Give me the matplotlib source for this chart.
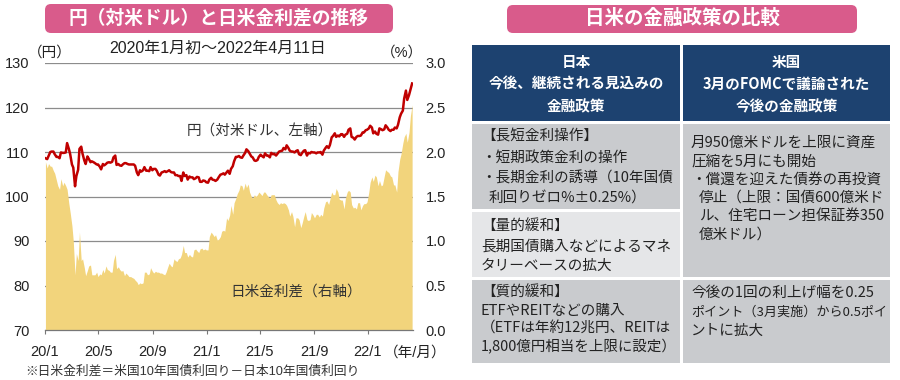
import matplotlib
matplotlib.use('Agg')
import matplotlib.pyplot as plt
from matplotlib.patches import FancyBboxPatch, Rectangle
from matplotlib.ticker import FormatStrFormatter
import pandas as pd

plt.rcParams['font.family'] = ['Liberation Sans', 'Noto Sans CJK JP']
JP = ['Noto Sans CJK JP', 'DejaVu Sans']

# ---------------- data (Mon/Thu readings) ----------------
usdjpy_2020 = [
    108.6, 108.4, 109.1, 110.0, 110.1, 110.1, 109.5, 108.9, 108.9,   # Jan
    108.6, 109.9, 109.8, 109.8, 109.9, 112.0, 110.7, 109.5,          # Feb
    107.2, 106.5, 102.3, 104.6, 106.0, 110.7, 111.2, 109.6, 108.1,   # Mar
    107.3, 109.0, 108.5, 107.7, 107.9, 107.7, 107.5, 107.2, 107.2,   # Apr
    106.7, 106.1, 107.3, 107.0, 107.3, 107.6, 107.7, 107.6,          # May
    107.8, 108.8, 109.2, 107.1, 107.3, 107.0, 106.9, 107.2, 107.5,   # Jun
    107.5, 107.3, 107.2, 107.2, 107.2, 107.2, 106.9, 105.4, 104.8,   # Jul
    105.9, 105.6, 105.9, 106.6, 105.8, 105.8, 105.7, 106.6, 105.9,   # Aug
    106.2, 106.2, 105.8, 104.9, 104.7, 105.4, 105.5, 105.7,          # Sep
    105.5, 105.7, 105.9, 105.5, 105.4, 105.4, 104.8, 104.8, 104.6,   # Oct
    104.6, 103.5, 105.4, 104.6, 104.8, 103.8, 104.5, 104.3, 104.3,   # Nov
    103.9, 104.1, 104.4, 104.3, 103.3, 103.3, 103.6, 103.5, 103.2,   # Dec
]
usdjpy_2021 = [
    103.1, 103.8, 104.2, 103.8, 103.7, 103.5, 103.8, 104.3,          # Jan
    104.9, 105.0, 105.2, 104.9, 105.4, 105.8, 105.1, 106.2,          # Feb
    106.8, 107.9, 108.9, 108.9, 109.1, 108.8, 108.7, 109.2, 109.8,   # Mar
    110.6, 110.2, 109.7, 109.0, 108.8, 108.1, 108.0, 108.2, 108.9,   # Apr
    109.4, 109.1, 108.8, 109.7, 109.2, 109.2, 108.8, 109.8, 109.5,   # May
    109.6, 109.2, 109.6, 110.1, 110.2, 110.3, 110.9, 110.6,          # Jun
    111.5, 110.9, 110.3, 110.1, 110.1, 109.9, 110.2, 110.4, 109.5,   # Jul
    109.3, 109.8, 110.3, 110.4, 109.2, 109.8, 109.7, 110.0, 109.9,   # Aug
    109.9, 109.7, 109.9, 109.9, 110.0, 109.4, 110.3, 110.9, 111.3,   # Sep
    110.9, 111.6, 113.3, 113.6, 114.2, 113.4, 113.7, 113.5,          # Oct
    114.0, 114.0, 113.4, 113.9, 114.1, 115.0, 115.3, 113.4, 113.2,   # Nov
    112.8, 113.4, 113.6, 113.6, 113.7, 114.4, 114.4, 114.9, 115.0,   # Dec
]
usdjpy_2022 = [
    115.3, 115.9, 115.5, 114.2, 114.6, 114.1, 113.9, 115.3, 115.1,   # Jan
    114.9, 115.1, 116.0, 115.5, 115.0, 114.7, 115.0, 115.0,          # Feb
    115.5, 115.3, 116.1, 117.8, 118.6, 119.3, 122.0, 123.8, 121.7,   # Mar
    122.8, 123.9, 125.4,                                             # Apr
]

spread_2020 = [
    1.89, 1.82, 1.87, 1.84, 1.84, 1.79, 1.76, 1.68, 1.62,   # Jan
    1.58, 1.70, 1.62, 1.66, 1.62, 1.58, 1.42, 1.32,         # Feb
    1.17, 1.00, 0.62, 0.86, 0.78, 1.10, 0.78, 0.80, 0.70,   # Mar
    0.61, 0.67, 0.72, 0.73, 0.62, 0.62, 0.62, 0.65, 0.60,   # Apr
    0.63, 0.62, 0.68, 0.64, 0.72, 0.68, 0.67, 0.65,         # May
    0.65, 0.78, 0.85, 0.69, 0.71, 0.68, 0.66, 0.67, 0.61,   # Jun
    0.64, 0.62, 0.60, 0.60, 0.59, 0.58, 0.56, 0.54, 0.51,   # Jul
    0.53, 0.52, 0.53, 0.65, 0.65, 0.62, 0.63, 0.70, 0.66,   # Aug
    0.64, 0.66, 0.65, 0.65, 0.64, 0.64, 0.63, 0.62,         # Sep
    0.65, 0.71, 0.75, 0.72, 0.71, 0.80, 0.78, 0.77, 0.80,   # Oct
    0.81, 0.85, 0.95, 0.87, 0.87, 0.82, 0.85, 0.83, 0.82,   # Nov
    0.90, 0.91, 0.89, 0.87, 0.91, 0.92, 0.90, 0.91, 0.90,   # Dec
]
spread_2021 = [
    0.90, 1.05, 1.10, 1.08, 1.05, 1.07, 1.01, 1.02,         # Jan
    1.05, 1.11, 1.12, 1.11, 1.26, 1.23, 1.29, 1.40,         # Feb
    1.30, 1.43, 1.48, 1.53, 1.57, 1.63, 1.62, 1.57, 1.65,   # Mar
    1.60, 1.64, 1.55, 1.50, 1.48, 1.52, 1.50, 1.52, 1.55,   # Apr
    1.53, 1.51, 1.55, 1.55, 1.52, 1.50, 1.48, 1.52, 1.52,   # May
    1.52, 1.46, 1.43, 1.41, 1.43, 1.42, 1.43, 1.42,         # Jun
    1.40, 1.35, 1.28, 1.33, 1.28, 1.16, 1.26, 1.26, 1.24,   # Jul
    1.15, 1.20, 1.28, 1.33, 1.24, 1.23, 1.24, 1.32, 1.29,   # Aug
    1.26, 1.30, 1.30, 1.27, 1.30, 1.28, 1.37, 1.44, 1.45,   # Sep
    1.41, 1.47, 1.55, 1.52, 1.52, 1.59, 1.55, 1.47,         # Oct
    1.46, 1.46, 1.36, 1.48, 1.55, 1.57, 1.55, 1.41, 1.37,   # Nov
    1.38, 1.36, 1.43, 1.43, 1.35, 1.40, 1.42, 1.42, 1.44,   # Dec
]
spread_2022 = [
    1.55, 1.66, 1.72, 1.67, 1.74, 1.72, 1.62, 1.68, 1.62,   # Jan
    1.63, 1.73, 1.80, 1.78, 1.77, 1.73, 1.72, 1.63,         # Feb
    1.63, 1.55, 1.78, 1.92, 1.98, 2.10, 2.17, 2.21, 2.11,   # Mar
    2.22, 2.40, 2.53,                                       # Apr
]

xtick_dates = ['2020-01-01', '2020-05-01', '2020-09-01', '2021-01-01',
               '2021-05-01', '2021-09-01', '2022-01-01']
xtick_labels = ['20/1', '20/5', '20/9', '21/1', '21/5', '21/9', '22/1']
yen_ticks = [70, 80, 90, 100, 110, 120, 130]
spread_ticks = [0.0, 0.5, 1.0, 1.5, 2.0, 2.5, 3.0]

left_title = '円（対米ドル）と日米金利差の推移'
sub_title = '2020年1月初～2022年4月11日'
fx_label = '円（対米ドル、左軸）'
spread_label = '日米金利差（右軸）'
footnote = '※日米金利差＝米国10年国債利回り－日本10年国債利回り'

right_title = '日米の金融政策の比較'
head_jp = ['日本', '今後、継続される見込みの', '金融政策']
head_us = ['米国', '3月のFOMCで議論された', '今後の金融政策']
jp_row1 = ['【長短金利操作】', '・短期政策金利の操作', '・長期金利の誘導（10年国債', ' 利回りゼロ%±0.25%）']
jp_row2 = ['【量的緩和】', '長期国債購入などによるマネ', 'タリーベースの拡大']
jp_row3 = ['【質的緩和】', 'ETFやREITなどの購入', '（ETFは年約12兆円、REITは', '1,800億円相当を上限に設定）']
us_row1 = ['月950億米ドルを上限に資産', '圧縮を5月にも開始', '・償還を迎えた債券の再投資',
           ' 停止（上限：国債600億米ド', ' ル、住宅ローン担保証券350', ' 億米ドル）']
us_row2 = ['今後の1回の利上げ幅を0.25', 'ポイント（3月実施）から0.5ポイ', 'ントに拡大']


def mon_thu(start, end):
    d = pd.date_range(start, end, freq='D')
    return d[d.weekday.isin([0, 3])]


dates = mon_thu('2020-01-01', '2022-04-11')
usdjpy = usdjpy_2020 + usdjpy_2021 + usdjpy_2022
spread = spread_2020 + spread_2021 + spread_2022
assert len(dates) == len(usdjpy) == len(spread), (len(dates), len(usdjpy), len(spread))

# ---------------- figure ----------------
W, H = 900, 380
fig = plt.figure(figsize=(9, 3.8), dpi=100)


def frac(x0, y0, x1, y1):
    return [x0 / W, 1 - y1 / H, (x1 - x0) / W, (y1 - y0) / H]


TXT = '#222222'
ax = fig.add_axes(frac(45, 63, 413, 330))
ax_fx = ax.twinx()
ax.yaxis.tick_right()
ax_fx.yaxis.tick_left()

ax.fill_between(dates, spread, 0, color='#f2d47c', lw=0, zorder=2)
ax.set_ylim(0, 3)
ax.set_yticks(spread_ticks)
ax.yaxis.set_major_formatter(FormatStrFormatter('%.1f'))
ax.yaxis.grid(True, color='#8c8c8c', lw=0.9)
ax.set_axisbelow(True)
ax.set_xlim(pd.Timestamp('2020-01-01'), pd.Timestamp('2022-04-13'))
ax.set_xticks(pd.to_datetime(xtick_dates))
ax.set_xticklabels(xtick_labels)
ax.tick_params(axis='x', length=3, width=0.8, color='#777777', pad=8,
               labelsize=10.5, labelcolor=TXT)
ax.tick_params(axis='y', length=0, pad=9, labelsize=10.5, labelcolor=TXT)
for s in ['top', 'left', 'right']:
    ax.spines[s].set_visible(False)
ax.spines['bottom'].set_color('#777777')
ax.spines['bottom'].set_linewidth(0.9)

ax_fx.plot(dates, usdjpy, color='#c00000', lw=1.8, solid_joinstyle='round')
ax_fx.set_ylim(70, 130)
ax_fx.set_yticks(yen_ticks)
ax_fx.tick_params(axis='y', length=0, pad=11, labelsize=10.5, labelcolor=TXT)
for s in ax_fx.spines.values():
    s.set_visible(False)

# overlay in pixel coordinates
bg = fig.add_axes([0, 0, 1, 1], zorder=5)
bg.set_xlim(0, W)
bg.set_ylim(H, 0)
bg.axis('off')

PINK = '#d95b8b'
NAVY = '#1d4270'
DARK = '#c9cbce'
LIGHT = '#e5e6e8'

bg.add_patch(FancyBboxPatch((45, 4), 348, 29, boxstyle='round,pad=0,rounding_size=6',
                            fc=PINK, ec='none'))
bg.text(219, 18.5, left_title, color='white', fontsize=13.5, fontweight='bold',
        ha='center', va='center', family=JP)
bg.text(218, 48, sub_title, color=TXT, fontsize=11.5, ha='center', va='center')
bg.text(50, 53, '（円）', color=TXT, fontsize=10.5, ha='center', va='center')
bg.text(402, 53, '（%）', color=TXT, fontsize=10.5, ha='center', va='center')
bg.text(415, 353, '（年/月）', color=TXT, fontsize=10.5, ha='center', va='center')
bg.text(25, 372, footnote, color='#333333', fontsize=9.2, ha='left', va='center')
bg.text(260, 132, fx_label, color='#333333', fontsize=10.5, ha='center', va='center', family=JP)
bg.text(296, 292, spread_label, color='#333333', fontsize=10.5, ha='center', va='center', family=JP)

# right panel
bg.add_patch(FancyBboxPatch((507, 5), 350, 28, boxstyle='round,pad=0,rounding_size=6',
                            fc=PINK, ec='none'))
bg.text(682, 18.5, right_title, color='white', fontsize=14, fontweight='bold',
        ha='center', va='center', family=JP)

cells = [
    (472, 45, 680, 121, NAVY), (683, 45, 890, 121, NAVY),
    (472, 124, 680, 209, DARK), (472, 212, 680, 277, LIGHT), (472, 280, 680, 363, DARK),
    (683, 124, 890, 277, DARK), (683, 280, 890, 363, DARK),
]
for x0, y0, x1, y1, c in cells:
    bg.add_patch(Rectangle((x0, y0), x1 - x0, y1 - y0, fc=c, ec='none'))

texts = []
for lines, cx in [(head_jp, 576), (head_us, 786.5)]:
    for i, s in enumerate(lines):
        t = bg.text(cx, 62 + 22 * i, s, color='white', fontsize=10.5, fontweight='bold',
                    ha='center', va='center', family=JP)
        texts.append((t, 200))


def block(lines, x, y0, step, right_edge):
    for i, s in enumerate(lines):
        indent = 8 if s.startswith(' ') else 0
        t = bg.text(x + indent, y0 + step * i, s.strip(), color=TXT, fontsize=10.5,
                    ha='left', va='center', family=JP)
        texts.append((t, right_edge - (x + indent) - 3))


block(jp_row1, 481, 137, 20.5, 680)
block(jp_row2, 481, 227, 19.5, 680)
block(jp_row3, 481, 293, 18, 680)
block(us_row1, 691, 143, 18.3, 890)
block(us_row2, 691, 293, 19, 890)

fig.canvas.draw()
renderer = fig.canvas.get_renderer()
for t, max_w in texts:
    w = t.get_window_extent(renderer).width
    if w > max_w:
        t.set_fontsize(t.get_fontsize() * max_w / w)

fig.savefig('out.png', dpi=100)
